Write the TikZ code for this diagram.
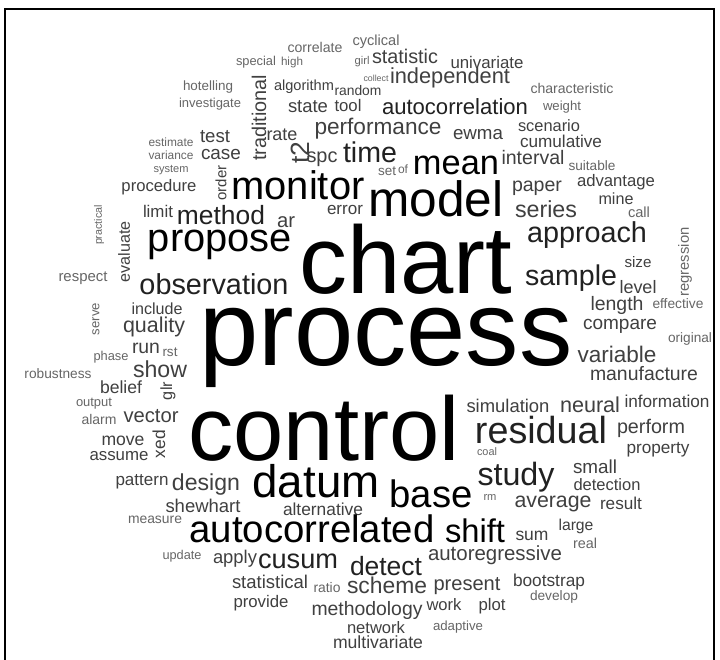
\documentclass[tikz,border=0pt]{standalone}
\usepackage{fontspec}
\setmainfont{Liberation Sans}
\usepackage{graphicx}
\definecolor{cA}{gray}{0.0}
\definecolor{cB}{gray}{0.13}
\definecolor{cC}{gray}{0.25}
\definecolor{cD}{gray}{0.40}
\tikzset{wd/.style={inner sep=0pt, outer sep=0pt, font=\fontsize{20}{20}\selectfont}}
\newcommand\W[5]{\node[wd, anchor=base, text=#5] (w-#4) at (#1,#2) {\resizebox{#3pt}{!}{#4}};}
\newcommand\R[5]{\node[wd, anchor=center, rotate=90, text=#5] (w-#4) at (#1,#2) {\resizebox{#3pt}{!}{#4}};}
\begin{document}
\begin{tikzpicture}[x=1pt,y=-1pt]
\useasboundingbox (0,0) rectangle (720,660);
\fill[white] (0,0) rectangle (720,660);
\draw[line width=2pt] (5,662) -- (5,9) -- (714,9) -- (714,662);
% top
\W{376}{46}{47}{cyclical}{cD}
\W{315}{53}{55}{correlate}{cD}
\W{256}{66}{40}{special}{cD}
\W{292}{66}{22}{high}{cD}
\W{362}{65}{15}{girl}{cD}
\W{405}{64}{66}{statistic}{cC}
\W{487}{69}{73}{univariate}{cC}
\W{208}{91}{50}{hotelling}{cD}
\R{259}{118}{86}{traditional}{cC}
\W{304}{91}{60}{algorithm}{cC}
\W{358}{96}{47}{random}{cC}
\W{376}{82}{25}{collect}{cD}
\W{450}{84}{120}{independent}{cC}
\W{572}{94}{83}{characteristic}{cD}
\W{210}{108}{62}{investigate}{cD}
\W{308}{113}{40}{state}{cC}
\W{348}{112}{27}{tool}{cC}
\W{455}{115}{146}{autocorrelation}{cB}
\W{562}{111}{38}{weight}{cD}
\W{171}{147}{45}{estimate}{cD}
\W{215}{143}{30}{test}{cC}
\W{171}{160}{45}{variance}{cD}
\W{221}{160}{40}{case}{cC}
\W{171}{173}{35}{system}{cD}
\W{159}{192}{75}{procedure}{cC}
\R{221}{183}{35}{order}{cC}
\W{282}{141}{31}{rate}{cC}
\R{300}{153}{22}{t2}{cC}
\W{322}{163}{31}{spc}{cC}
\W{370}{163}{54}{time}{cB}
\W{378}{135}{127}{performance}{cC}
\W{478}{140}{50}{ewma}{cC}
\W{549}{132}{62}{scenario}{cC}
\W{561}{148}{82}{cumulative}{cC}
\W{533}{165}{63}{interval}{cC}
\W{592}{171}{47}{suitable}{cD}
\W{387}{176}{18}{set}{cD}
\W{403}{174}{10}{of}{cD}
\W{456}{175}{86}{mean}{cA}
\W{537}{192}{50}{paper}{cC}
\W{616}{187}{78}{advantage}{cC}
\W{616}{205}{35}{mine}{cC}
\W{639}{218}{22}{call}{cD}
\W{546}{218}{62}{series}{cC}
\W{298}{200}{133}{monitor}{cA}
\W{436}{217}{135}{model}{cA}
\W{345}{215}{36}{error}{cC}
\W{158}{218}{30}{limit}{cC}
\W{221}{225}{88}{method}{cB}
\W{286}{228}{18}{ar}{cC}
\W{220}{252}{144}{propose}{cA}
\W{406}{293}{213}{chart}{cA}
\W{587}{243}{120}{approach}{cB}
\W{571}{285}{92}{sample}{cB}
\W{638}{268}{27}{size}{cC}
\W{638}{294}{37}{level}{cC}
\R{685}{262}{69}{regression}{cD}
\W{83}{282}{49}{respect}{cD}
\R{124}{252}{61}{evaluate}{cC}
\R{99}{225}{40}{practical}{cD}
\W{214}{295}{149}{observation}{cB}
\W{386}{365}{373}{process}{cA}
% right middle
\W{617}{310}{53}{length}{cC}
\W{678}{308}{51}{effective}{cD}
\W{620}{330}{74}{compare}{cC}
\W{690}{342}{44}{original}{cD}
\W{617}{362}{79}{variable}{cC}
\W{644}{380}{108}{manufacture}{cC}
% left middle
\W{157}{315}{51}{include}{cC}
\W{154}{333}{62}{quality}{cC}
\R{96}{319}{32}{serve}{cD}
\W{146}{353}{28}{run}{cC}
\W{170}{356}{15}{rst}{cD}
\W{111}{360}{35}{phase}{cD}
\W{160}{377}{54}{show}{cC}
\W{58}{378}{67}{robustness}{cD}
\W{121}{393}{42}{belief}{cC}
\R{168}{391}{18}{glr}{cC}
\W{94}{406}{36}{output}{cD}
\W{99}{424}{35}{alarm}{cD}
\W{151}{422}{55}{vector}{cC}
\W{123}{445}{43}{move}{cC}
\R{159}{444}{28}{xed}{cC}
\W{119}{460}{59}{assume}{cC}
\W{324}{460}{271}{control}{cA}
% right lower
\W{508}{412}{83}{simulation}{cC}
\W{590}{412}{60}{neural}{cC}
\W{667}{407}{85}{information}{cC}
\W{541}{443}{132}{residual}{cB}
\W{651}{433}{68}{perform}{cC}
\W{487}{455}{20}{coal}{cD}
\W{658}{453}{63}{property}{cC}
\W{516}{485}{77}{study}{cB}
\W{595}{473}{44}{small}{cC}
\W{607}{490}{67}{detection}{cC}
\W{431}{507}{83}{base}{cA}
\W{490}{500}{13}{rm}{cD}
\W{553}{507}{77}{average}{cC}
\W{621}{509}{42}{result}{cC}
% bottom
\W{316}{497}{127}{datum}{cA}
\W{142}{485}{53}{pattern}{cC}
\W{206}{490}{68}{design}{cC}
\W{203}{512}{75}{shewhart}{cC}
\W{323}{515}{80}{alternative}{cC}
\W{155}{523}{54}{measure}{cD}
\W{312}{542}{245}{autocorrelated}{cA}
\W{475}{542}{60}{shift}{cA}
\W{532}{540}{33}{sum}{cC}
\W{576}{530}{35}{large}{cC}
\W{585}{548}{24}{real}{cD}
\W{182}{559}{39}{update}{cD}
\W{235}{563}{44}{apply}{cC}
\W{298}{568}{80}{cusum}{cB}
\W{386}{575}{72}{detect}{cB}
\W{495}{560}{134}{autoregressive}{cC}
\W{270}{588}{76}{statistical}{cC}
\W{327}{592}{27}{ratio}{cD}
\W{387}{593}{80}{scheme}{cC}
\W{467}{590}{67}{present}{cC}
\W{549}{586}{72}{bootstrap}{cC}
\W{554}{600}{48}{develop}{cD}
\W{261}{607}{55}{provide}{cC}
\W{367}{615}{111}{methodology}{cC}
\W{444}{610}{35}{work}{cC}
\W{492}{610}{27}{plot}{cC}
\W{376}{633}{58}{network}{cC}
\W{458}{630}{50}{adaptive}{cD}
\W{378}{648}{90}{multivariate}{cC}
\end{tikzpicture}
\end{document}
